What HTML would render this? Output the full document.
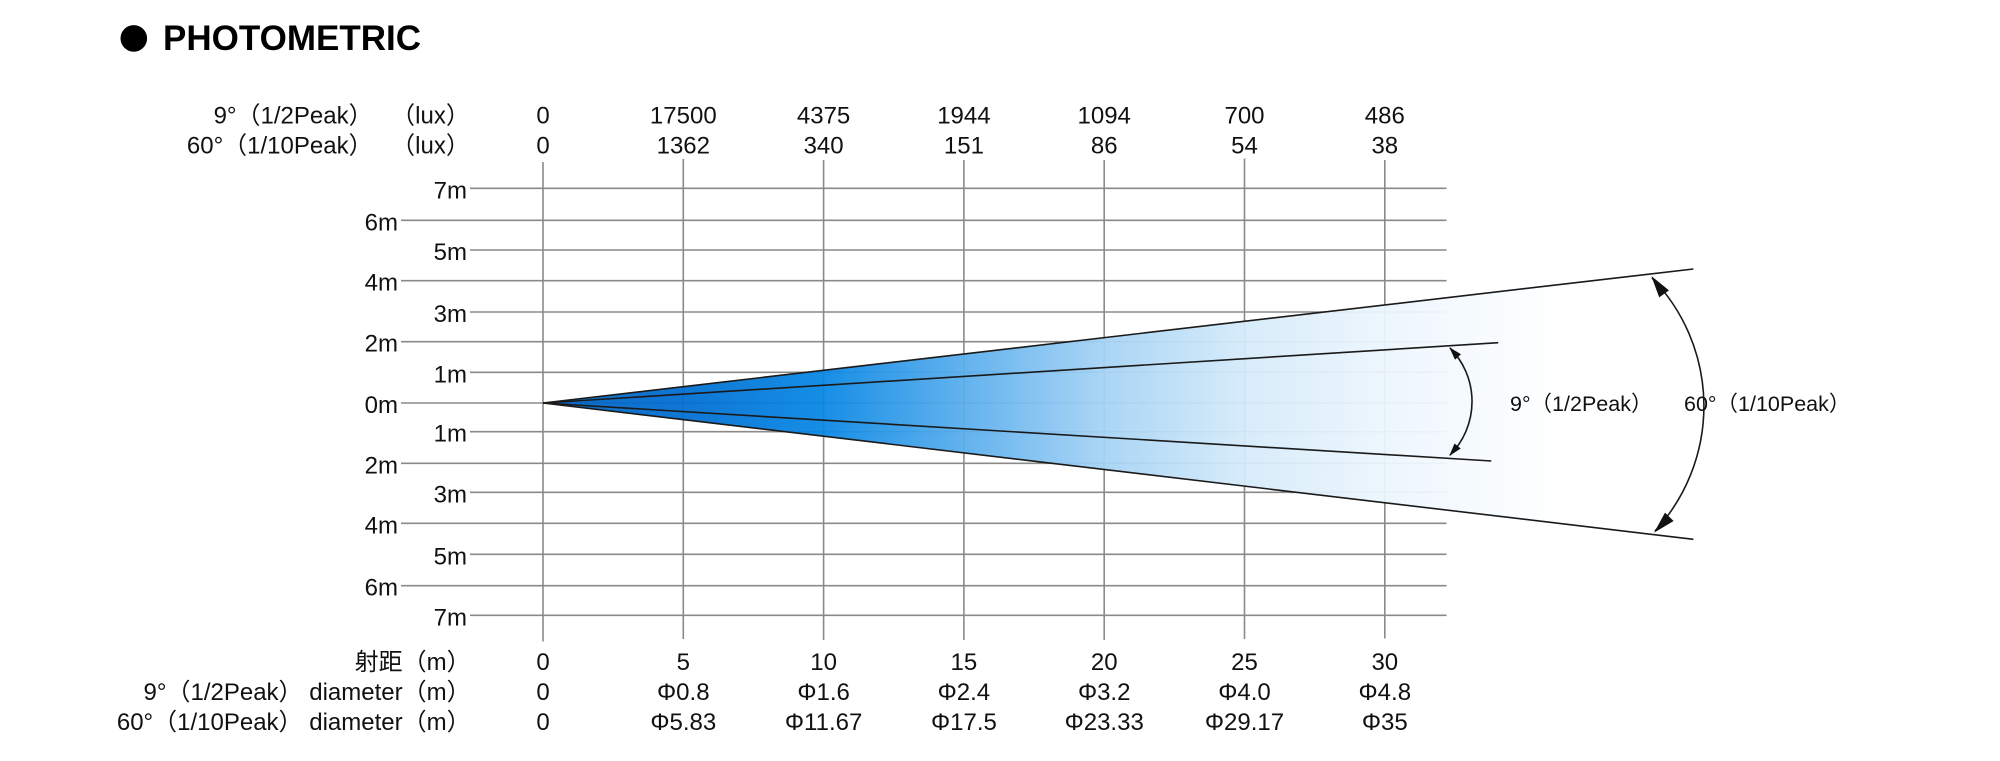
<!DOCTYPE html>
<html>
<head>
<meta charset="utf-8">
<style>
html,body{margin:0;padding:0;background:#fff;}
svg{display:block;}
text{font-family:"Liberation Sans","Noto Sans CJK SC",sans-serif;fill:#111;}
</style>
</head>
<body>
<svg width="2000" height="761" viewBox="0 0 2000 761" xmlns="http://www.w3.org/2000/svg">
<defs>
<linearGradient id="beam" gradientUnits="userSpaceOnUse" x1="543" y1="0" x2="1565" y2="0">
<stop offset="0" stop-color="#0060c2"/>
<stop offset="0.135" stop-color="#006ed1"/>
<stop offset="0.27" stop-color="#0686e4"/>
<stop offset="0.41" stop-color="#58adec"/>
<stop offset="0.55" stop-color="#a6d3f5"/>
<stop offset="0.69" stop-color="#d6ebfa"/>
<stop offset="0.83" stop-color="#edf6fd"/>
<stop offset="1" stop-color="#ffffff"/>
</linearGradient>
</defs>

<!-- Title -->
<circle cx="133.8" cy="38.4" r="13.3" fill="#000"/>
<text x="163" y="50" style="font-weight:bold;font-size:35px;fill:#000;">PHOTOMETRIC</text>

<!-- Grid horizontal -->
<g stroke="#8a8a8a" stroke-width="1.6">
<line x1="470" y1="188.3" x2="1446.5" y2="188.3"/>
<line x1="401" y1="220.3" x2="1446.5" y2="220.3"/>
<line x1="470" y1="250" x2="1446.5" y2="250"/>
<line x1="401" y1="280.7" x2="1446.5" y2="280.7"/>
<line x1="470" y1="312" x2="1446.5" y2="312"/>
<line x1="401" y1="341.7" x2="1446.5" y2="341.7"/>
<line x1="470" y1="372.3" x2="1446.5" y2="372.3"/>
<line x1="401" y1="403" x2="1446.5" y2="403"/>
<line x1="470" y1="431.7" x2="1446.5" y2="431.7"/>
<line x1="401" y1="463.3" x2="1446.5" y2="463.3"/>
<line x1="470" y1="492.3" x2="1446.5" y2="492.3"/>
<line x1="401" y1="523.3" x2="1446.5" y2="523.3"/>
<line x1="470" y1="554.3" x2="1446.5" y2="554.3"/>
<line x1="401" y1="585.7" x2="1446.5" y2="585.7"/>
<line x1="470" y1="615.3" x2="1446.5" y2="615.3"/>
</g>
<!-- Grid vertical -->
<g stroke="#8a8a8a" stroke-width="1.6">
<line x1="543" y1="162" x2="543" y2="641.5"/>
<line x1="683.3" y1="159" x2="683.3" y2="639"/>
<line x1="823.6" y1="160" x2="823.6" y2="640"/>
<line x1="963.9" y1="160" x2="963.9" y2="640"/>
<line x1="1104.2" y1="160" x2="1104.2" y2="640"/>
<line x1="1244.5" y1="158.5" x2="1244.5" y2="639"/>
<line x1="1384.8" y1="160" x2="1384.8" y2="638.5"/>
</g>

<!-- Beam fill -->
<polygon points="543,403 1693.4,269 1693.4,539.3" fill="url(#beam)" fill-opacity="0.94"/>

<!-- Beam lines -->
<g stroke="#1a1a1a" stroke-width="1.6" fill="none">
<line x1="543" y1="403" x2="1693.4" y2="269"/>
<line x1="543" y1="403" x2="1693.4" y2="539.3"/>
<line x1="543" y1="403" x2="1498.2" y2="342.7"/>
<line x1="543" y1="403" x2="1491.3" y2="461"/>
<!-- small arc -->
<path d="M1450,348 A76,76 0 0 1 1450,455"/>
<!-- big arc -->
<path d="M1652,278 A184,184 0 0 1 1655,531"/>
</g>
<g fill="#111">
<polygon points="1449.3,347.3 1461,354.3 1455,359.7"/>
<polygon points="1449.3,456 1460.7,448.5 1454.5,443.5"/>
<polygon points="1651.3,276 1669,290.4 1659.2,297.4"/>
<polygon points="1654,532.7 1673.6,521 1665,512.6"/>
</g>

<!-- Annotations -->
<text x="1510" y="411" style="font-size:21.5px;">9°（1/2Peak）</text>
<text x="1684" y="411" style="font-size:21.5px;">60°（1/10Peak）</text>

<!-- Y-axis labels -->
<g style="font-size:24px;" text-anchor="end">
<text x="467" y="198.3">7m</text>
<text x="398" y="230.3">6m</text>
<text x="467" y="260">5m</text>
<text x="398" y="290.7">4m</text>
<text x="467" y="322">3m</text>
<text x="398" y="351.7">2m</text>
<text x="467" y="382.3">1m</text>
<text x="398" y="413">0m</text>
<text x="467" y="441.7">1m</text>
<text x="398" y="473.3">2m</text>
<text x="467" y="502.3">3m</text>
<text x="398" y="533.3">4m</text>
<text x="467" y="564.3">5m</text>
<text x="398" y="595.7">6m</text>
<text x="467" y="625.3">7m</text>
</g>

<!-- Header labels -->
<g style="font-size:24px;">
<text x="372.6" y="123.3" text-anchor="end">9°（1/2Peak）</text>
<text x="372.6" y="153.3" text-anchor="end">60°（1/10Peak）</text>
<text x="430.5" y="123.3" text-anchor="middle">（lux）</text>
<text x="430.5" y="153.3" text-anchor="middle">（lux）</text>
</g>
<g style="font-size:24px;" text-anchor="middle">
<text x="543" y="123.3">0</text>
<text x="683.3" y="123.3">17500</text>
<text x="823.6" y="123.3">4375</text>
<text x="963.9" y="123.3">1944</text>
<text x="1104.2" y="123.3">1094</text>
<text x="1244.5" y="123.3">700</text>
<text x="1384.8" y="123.3">486</text>
<text x="543" y="153.3">0</text>
<text x="683.3" y="153.3">1362</text>
<text x="823.6" y="153.3">340</text>
<text x="963.9" y="153.3">151</text>
<text x="1104.2" y="153.3">86</text>
<text x="1244.5" y="153.3">54</text>
<text x="1384.8" y="153.3">38</text>
</g>

<!-- Bottom labels -->
<g style="font-size:24px;" text-anchor="end">
<text x="470.6" y="670">射距（m）</text>
<text x="470.6" y="700">9°（1/2Peak） diameter（m）</text>
<text x="470.6" y="730">60°（1/10Peak） diameter（m）</text>
</g>
<g style="font-size:24px;" text-anchor="middle">
<text x="543" y="670">0</text>
<text x="683.3" y="670">5</text>
<text x="823.6" y="670">10</text>
<text x="963.9" y="670">15</text>
<text x="1104.2" y="670">20</text>
<text x="1244.5" y="670">25</text>
<text x="1384.8" y="670">30</text>
<text x="543" y="700">0</text>
<text x="683.3" y="700">Φ0.8</text>
<text x="823.6" y="700">Φ1.6</text>
<text x="963.9" y="700">Φ2.4</text>
<text x="1104.2" y="700">Φ3.2</text>
<text x="1244.5" y="700">Φ4.0</text>
<text x="1384.8" y="700">Φ4.8</text>
<text x="543" y="730">0</text>
<text x="683.3" y="730">Φ5.83</text>
<text x="823.6" y="730">Φ11.67</text>
<text x="963.9" y="730">Φ17.5</text>
<text x="1104.2" y="730">Φ23.33</text>
<text x="1244.5" y="730">Φ29.17</text>
<text x="1384.8" y="730">Φ35</text>
</g>
</svg>
</body>
</html>
